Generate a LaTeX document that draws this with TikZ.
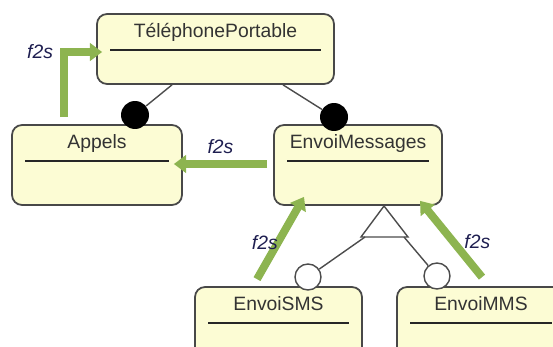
\documentclass[tikz,border=0pt]{standalone}
\usepackage{fontspec}
\setmainfont{Liberation Sans}
\usetikzlibrary{arrows.meta}

\definecolor{boxfill}{RGB}{252,252,212}
\definecolor{boxline}{RGB}{72,72,72}
\definecolor{flowgreen}{RGB}{141,180,80}
\definecolor{labelblue}{RGB}{30,30,80}

\begin{document}
\begin{tikzpicture}[x = 0.02cm, y = -0.02cm,
	classe/.style = {draw = boxline, line width = 1pt, fill = boxfill, rounded corners = 0.2cm, minimum height = 1.6cm, inner sep = 0pt},
	titre/.style = {font = \fontsize{11}{13}\selectfont, text = black!80, text height = 8pt, text depth = 2.5pt, anchor = center, yshift = -11pt},
	sep/.style = {line width = 0.9pt, black!85},
	comp/.style = {line width = 0.8pt, gray!60!black},
	plein/.style = {circle, fill = black, minimum size = 0.56cm, inner sep = 0pt},
	vide/.style = {circle, draw = gray!60!black, line width = 0.8pt, fill = white, minimum size = 0.52cm, inner sep = 0pt},
	flux/.style = {line width = 4.5pt, flowgreen, -{Triangle[length = 7pt, width = 10pt]}},
	f2s/.style = {font = \itshape\fontsize{11}{13}\selectfont, text = labelblue, inner sep = 1pt}]
\useasboundingbox (0,0) rectangle (553,347);
\clip (0,0) rectangle (553,347);
% Classes
\node[classe, minimum width = 4.74cm, minimum height = 1.4cm, label = {[titre]north:TéléphonePortable}] (tel) at (215.5,49) {};
\node[classe, minimum width = 3.4cm, label = {[titre]north:Appels}] (app) at (97,165) {};
\node[classe, minimum width = 3.36cm, label = {[titre]north:EnvoiMessages}] (env) at (358,165) {};
\node[classe, minimum width = 3.34cm, minimum height = 1.4cm, label = {[titre]north:EnvoiSMS}] (sms) at (278.5,322) {};
\node[classe, minimum width = 3.36cm, minimum height = 1.4cm, label = {[titre]north:EnvoiMMS}] (mms) at (481,322) {};
\foreach \c in {tel, app, env, sms, mms}
	\draw[sep] ([shift = {(14,37)}]\c.north west) -- ([shift = {(-14,37)}]\c.north east);
% Composition
\node[plein] (dapp) at (135,115) {};
\node[plein] (denv) at (334,117) {};
\draw[comp] ([shift = {(-43.5,0)}]tel.south) -- (dapp);
\draw[comp] ([shift = {(67.5,0)}]tel.south) -- (denv);
% Specialisation
\coordinate (tri) at (384,206);
\coordinate (tril) at (361,237);
\coordinate (trir) at (408,237);
\coordinate (basel) at (365,237);
\coordinate (baser) at (404,237);
\node[vide] (osms) at (308,277) {};
\node[vide] (omms) at (437,276) {};
\draw[comp, fill = white] (tri) -- (tril) -- (trir) -- cycle;
\draw[comp] (basel) -- (osms);
\draw[comp] (baser) -- (omms);
% Flux f2s
\draw[flux] ([shift = {(-33,-7)}]app.north) |- node[pos = 0.5, left = 3pt, f2s] {f2s} ([shift = {(6,3)}]tel.west);
\draw[flux] ([shift = {(-6,-1)}]env.west) -- node[pos = 0.5, above = 2.5pt, f2s] {f2s} ([shift = {(-9,-1)}]app.east);
\draw[flux] ([shift = {(-21.5,-7)}]sms.north) -- node[pos = 0.45, left = -3pt, f2s] {f2s} ([shift = {(-54,-9)}]env.south);
\draw[flux] ([shift = {(1,-9)}]mms.north) -- node[pos = 0.46, right = 3pt, f2s] {f2s} ([shift = {(62,-5)}]env.south);
\end{tikzpicture}
\end{document}
